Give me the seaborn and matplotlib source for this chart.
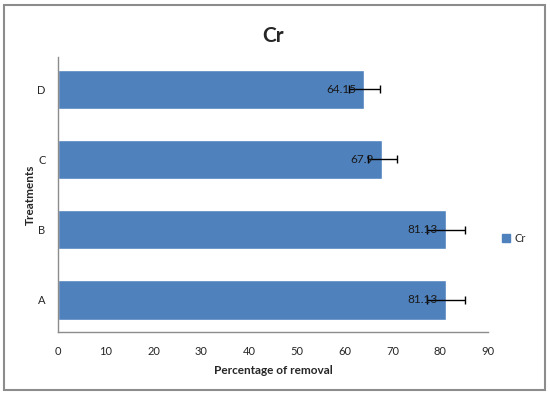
import matplotlib
matplotlib.use("Agg")
import matplotlib.pyplot as plt
import matplotlib.patches as mpatches
import seaborn as sns
import pandas as pd

# data
treatments = ["D", "C", "B", "A"]
removal = [64.15, 67.9, 81.13, 81.13]
errors = [3.3, 3.0, 4.0, 4.0]
xticks = [0, 10, 20, 30, 40, 50, 60, 70, 80, 90]

bar_color = "#4F81BD"

sns.set_style("white")
plt.rcParams["font.family"] = ["Lato", "DejaVu Sans"]

df = pd.DataFrame({"treatment": treatments, "removal": removal})

fig = plt.figure(figsize=(5.5, 3.96), dpi=100)
ax = fig.add_axes([58 / 550, 1 - 332 / 396, 430 / 550, 275 / 396])

sns.barplot(data=df, x="removal", y="treatment", order=treatments,
            color=bar_color, saturation=1, width=0.57, errorbar=None, ax=ax)

for i, (v, e) in enumerate(zip(removal, errors)):
    ax.annotate(f"{v:g}", xy=(v, i), xytext=(-6, 0), textcoords="offset points",
                ha="right", va="center", fontsize=8.5, color="#1a1a1a")
ax.errorbar(removal, range(len(treatments)), xerr=errors, fmt="none",
            ecolor="black", elinewidth=1, capsize=3, capthick=1)

ax.set_xlim(0, 90)
ax.set_xticks(xticks)
ax.set_xticklabels([str(t) for t in xticks], fontsize=8)
ax.tick_params(axis="y", labelsize=8, length=0, pad=9)
ax.tick_params(axis="x", length=0, pad=10)
ax.set_xlabel("Percentage of removal", fontsize=8.5, fontweight="bold", labelpad=6)
ax.set_ylabel("Treatments", fontsize=8.5, fontweight="bold")
ax.yaxis.set_label_coords(-0.052, 0.5)
ax.set_title("Cr", fontsize=15, fontweight="bold", pad=11)

for side in ["top", "right"]:
    ax.spines[side].set_visible(False)
for side in ["left", "bottom"]:
    ax.spines[side].set_color("#8c8c8c")
    ax.spines[side].set_linewidth(1)

handle = mpatches.Patch(color=bar_color, label="Cr")
fig.legend(handles=[handle], loc="center left", bbox_to_anchor=(492 / 550, 1 - 238 / 396),
           frameon=False, fontsize=8, handlelength=0.7, handleheight=0.7, handletextpad=0.4)

# outer chart border
fig.patches.append(mpatches.Rectangle((4 / 550, 6 / 396), 541 / 550, 385 / 396,
                                      transform=fig.transFigure, fill=False,
                                      edgecolor="#8c8c8c", linewidth=1.5))

fig.savefig("out.png", dpi=100)
